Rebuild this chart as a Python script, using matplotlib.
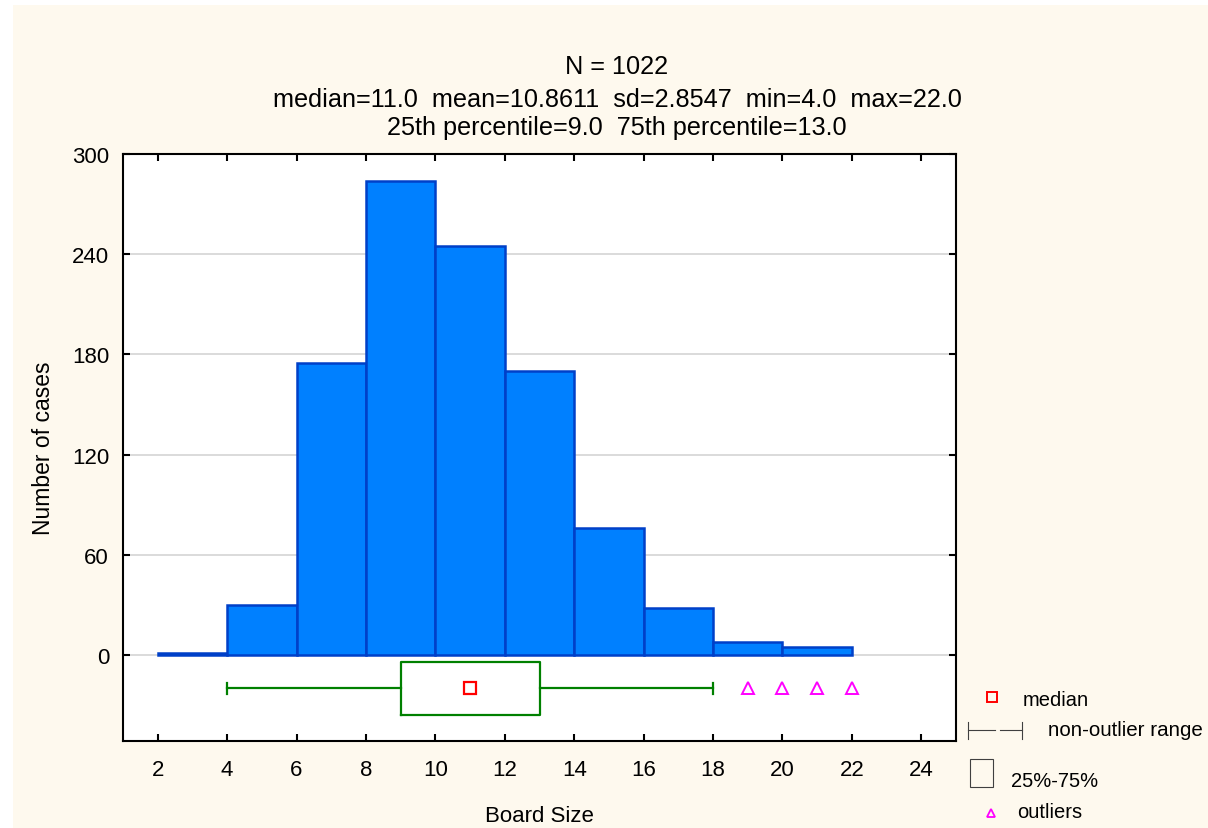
import matplotlib.pyplot as plt
from matplotlib.patches import Rectangle

plt.rcParams['font.family'] = ['Liberation Sans', 'DejaVu Sans']

# histogram data (bins of width 2)
bin_edges = [2, 4, 6, 8, 10, 12, 14, 16, 18, 20, 22]
counts = [1, 30, 175, 284, 245, 170, 76, 28, 8, 5]

# box plot summary
q1, median, q3 = 9.0, 11.0, 13.0
whis_lo, whis_hi = 4.0, 18.0
outliers = [19, 20, 21, 22]

title_lines = ["N = 1022",
               "median=11.0  mean=10.8611  sd=2.8547  min=4.0  max=22.0",
               "25th percentile=9.0  75th percentile=13.0"]

W, H = 1208, 829
fig = plt.figure(figsize=(W / 100, H / 100), dpi=100, facecolor='white')
cream = '#FEF9EE'
fig.patches.append(Rectangle((13 / W, 0), 1 - 13 / W, 1 - 6 / H, transform=fig.transFigure,
                             facecolor=cream, edgecolor='none', zorder=-10))

ax = fig.add_axes([123 / W, 1 - 742 / H, (956 - 123) / W, (742 - 155) / H])
ax.set_facecolor('white')

lefts = bin_edges[:-1]
widths = [b - a for a, b in zip(bin_edges[:-1], bin_edges[1:])]
ax.bar(lefts, counts, width=widths, align='edge', color='#0080FF',
       edgecolor='#0040C8', linewidth=1.8, zorder=3)

# box plot below the histogram
ybox = -20
stats = [dict(med=median, q1=q1, q3=q3, whislo=whis_lo, whishi=whis_hi, fliers=[])]
ax.bxp(stats, positions=[ybox], widths=32, orientation='horizontal', showfliers=False,
       boxprops=dict(color='#008000', linewidth=1.6),
       whiskerprops=dict(color='#008000', linewidth=1.6),
       capprops=dict(color='#008000', linewidth=1.6),
       medianprops=dict(linewidth=0), capwidths=7, manage_ticks=False, zorder=4)
ax.plot([median], [ybox], marker='s', ms=8, mfc='none', mec='red', mew=1.6, ls='none', zorder=5)
ax.plot(outliers, [ybox] * len(outliers), marker='^', ms=8, mfc='none', mec='#FF00FF',
        mew=1.4, ls='none', zorder=5)

ax.set_xlim(1, 25)
ax.set_ylim(-51.5, 300)
ax.set_xticks(range(2, 25, 2))
ax.set_yticks(range(0, 301, 60))
ax.tick_params(direction='in', length=5, width=1.5, top=True, right=True, labelsize=16)
ax.tick_params(axis='x', pad=13)
ax.tick_params(axis='y', pad=10)
for s in ax.spines.values():
    s.set_linewidth(1.5)
ax.yaxis.grid(True, color='#D8D8D8', linewidth=1.3, zorder=0)
ax.set_axisbelow(True)

ax.set_xlabel('Board Size', fontsize=16, labelpad=18)
ax.set_ylabel('Number of cases', fontsize=16.5, labelpad=12)

for txt, y in zip(title_lines, [67, 100, 128]):
    fig.text(617 / W, 1 - y / H, txt, ha='center', va='center', fontsize=18.2)

# legend drawn by hand in figure pixels
lg = fig.add_axes([0, 0, 1, 1], facecolor='none')
lg.set_xlim(0, W)
lg.set_ylim(H, 0)
lg.axis('off')
lg.plot([992], [698], marker='s', ms=7, mfc='none', mec='red', mew=1.4)
lg.text(1023, 701, 'median', va='center', fontsize=14.5)
lg.plot([968, 995], [731, 731], color='#404040', lw=0.8)
lg.plot([1000, 1022], [731, 731], color='#404040', lw=0.8)
lg.plot([968, 968], [723, 740], color='#404040', lw=0.8)
lg.plot([1022, 1022], [723, 740], color='#404040', lw=0.8)
lg.text(1048, 730, 'non-outlier range', va='center', fontsize=14.8)
lg.add_patch(Rectangle((970, 760), 23, 28, facecolor='none', edgecolor='#404040', lw=0.8))
lg.text(1011, 782, '25%-75%', va='center', fontsize=14.5)
lg.plot([991], [814], marker='^', ms=6, mfc='none', mec='#FF00FF', mew=1.3)
lg.text(1017, 813, 'outliers', va='center', fontsize=14.5)

fig.savefig('out.png', dpi=100, facecolor=fig.get_facecolor())
